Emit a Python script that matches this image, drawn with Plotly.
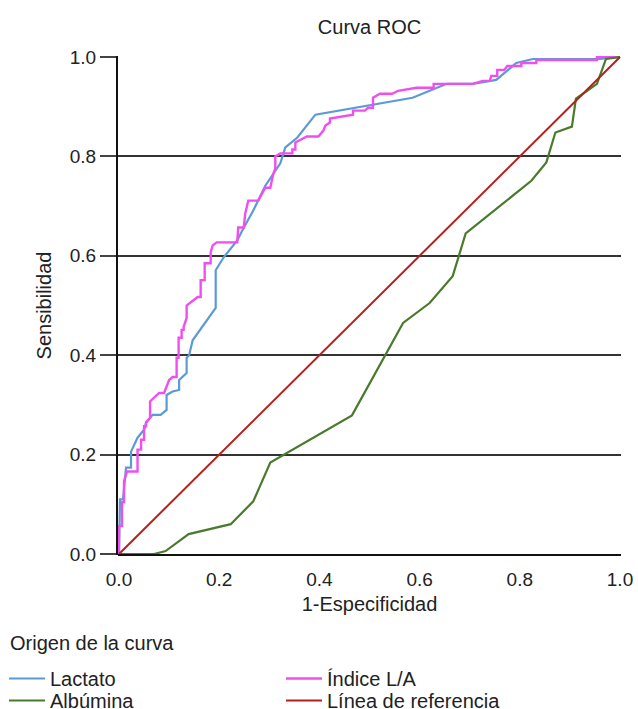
import plotly.graph_objects as go

lactato_x = [0, 0.002, 0.008, 0.014, 0.024, 0.024, 0.037, 0.05, 0.054, 0.067, 0.083, 0.095, 0.095, 0.107, 0.12, 0.12,
             0.135, 0.135, 0.14, 0.145, 0.147, 0.193, 0.193, 0.209, 0.236, 0.246, 0.268, 0.292, 0.322, 0.332, 0.356,
             0.392, 0.586, 0.654, 0.706, 0.753, 0.773, 0.793, 0.826, 0.96, 1.0]
lactato_y = [0, 0.11, 0.11, 0.174, 0.174, 0.206, 0.234, 0.25, 0.264, 0.28, 0.28, 0.29, 0.32, 0.327, 0.33, 0.35,
             0.364, 0.395, 0.40, 0.425, 0.43, 0.495, 0.571, 0.597, 0.631, 0.651, 0.691, 0.741, 0.786, 0.818, 0.838,
             0.884, 0.918, 0.946, 0.946, 0.954, 0.972, 0.988, 0.996, 0.996, 1.0]

indice_x = [0, 0, 0.006, 0.006, 0.01, 0.01, 0.016, 0.037, 0.037, 0.044, 0.044, 0.05, 0.05, 0.054, 0.054, 0.062,
            0.062, 0.08, 0.09, 0.1, 0.107, 0.115, 0.115, 0.119, 0.119, 0.125, 0.125, 0.129, 0.129, 0.135, 0.135,
            0.157, 0.163, 0.163, 0.171, 0.171, 0.183, 0.183, 0.187, 0.195, 0.236, 0.238, 0.238, 0.249, 0.252,
            0.258, 0.278, 0.292, 0.302, 0.308, 0.312, 0.312, 0.322, 0.346, 0.346, 0.352, 0.352, 0.375, 0.398,
            0.408, 0.412, 0.421, 0.421, 0.467, 0.467, 0.491, 0.497, 0.507, 0.507, 0.521, 0.545, 0.557, 0.594,
            0.628, 0.628, 0.706, 0.726, 0.74, 0.743, 0.755, 0.755, 0.769, 0.775, 0.803, 0.803, 0.833, 0.833,
            0.954, 0.954, 1.0]
indice_y = [0, 0.056, 0.056, 0.104, 0.104, 0.146, 0.166, 0.166, 0.21, 0.21, 0.23, 0.23, 0.257, 0.257, 0.265, 0.274,
            0.307, 0.324, 0.324, 0.35, 0.356, 0.356, 0.395, 0.395, 0.435, 0.435, 0.451, 0.451, 0.457, 0.475, 0.5,
            0.517, 0.517, 0.551, 0.551, 0.585, 0.585, 0.607, 0.621, 0.627, 0.627, 0.647, 0.657, 0.657, 0.685,
            0.711, 0.711, 0.737, 0.737, 0.765, 0.776, 0.80, 0.806, 0.806, 0.814, 0.814, 0.828, 0.84, 0.84,
            0.852, 0.862, 0.868, 0.876, 0.884, 0.892, 0.892, 0.898, 0.898, 0.918, 0.926, 0.926, 0.932, 0.938,
            0.938, 0.946, 0.946, 0.952, 0.952, 0.962, 0.962, 0.974, 0.974, 0.982, 0.982, 0.988, 0.988, 0.994,
            0.994, 1.0, 1.0]

albumina_x = [0, 0.07, 0.093, 0.139, 0.223, 0.268, 0.302, 0.465, 0.567, 0.62, 0.666, 0.692, 0.823, 0.853, 0.871,
              0.904, 0.912, 0.954, 0.972, 1.0]
albumina_y = [0, 0, 0.006, 0.04, 0.06, 0.106, 0.184, 0.279, 0.465, 0.505, 0.559, 0.645, 0.751, 0.788, 0.848,
              0.86, 0.916, 0.946, 0.996, 1.0]

ref_x = [0, 1]
ref_y = [0, 1]

tick_vals = [0, 0.2, 0.4, 0.6, 0.8, 1.0]
tick_text = ["0.0", "0.2", "0.4", "0.6", "0.8", "1.0"]

W, H = 638, 709
ML, MR, MT, MB = 118, 17, 56, 154
PW, PH = W - ML - MR, H - MT - MB
FS = 20
TFS = 19

fig = go.Figure()
fig.add_trace(go.Scatter(x=lactato_x, y=lactato_y, mode="lines", name="Lactato", legend="legend",
                         line=dict(color="#5b9bd5", width=2.2)))
fig.add_trace(go.Scatter(x=indice_x, y=indice_y, mode="lines", name="Índice L/A", legend="legend",
                         line=dict(color="#f04ff0", width=2.4)))
fig.add_trace(go.Scatter(x=albumina_x, y=albumina_y, mode="lines", name="Albúmina", legend="legend2",
                         line=dict(color="#4a7a2c", width=2.2)))
fig.add_trace(go.Scatter(x=ref_x, y=ref_y, mode="lines", name="Línea de referencia", legend="legend2",
                         line=dict(color="#b5201c", width=2)))

font = "Liberation Sans, Arial, sans-serif"
leg_common = dict(orientation="h", x=(4 - ML) / PW, xref="paper", yref="paper",
                  xanchor="left", yanchor="top", entrywidth=226, entrywidthmode="pixels",
                  font=dict(size=FS), itemwidth=36, bgcolor="rgba(0,0,0,0)")
fig.update_layout(
    width=W, height=H,
    margin=dict(l=ML, r=MR, t=MT, b=MB, autoexpand=False),
    paper_bgcolor="white", plot_bgcolor="white",
    font=dict(family=font, size=FS, color="#222"),
    title=dict(text="Curva ROC", x=0.5, xref="paper", xanchor="center", y=1 - 27 / H, yref="container",
               yanchor="middle", font=dict(size=FS, color="#222")),
    xaxis=dict(range=[-0.002, 1.002], tickvals=tick_vals, ticktext=tick_text, showgrid=False,
               zeroline=False, showline=False, ticks="", automargin=False, ticklabelstandoff=11,
               title=dict(text="1-Especificidad", standoff=7, font=dict(size=FS)),
               tickfont=dict(size=TFS)),
    yaxis=dict(range=[-0.002, 1.002], tickvals=tick_vals, ticktext=tick_text, showgrid=True,
               gridcolor="#333", gridwidth=1.5, zeroline=False, showline=True, linecolor="#111",
               linewidth=2, ticks="outside", ticklen=16, tickcolor="#444", tickwidth=1.5, automargin=False,
               title=dict(text="Sensibilidad", standoff=13, font=dict(size=FS)), tickfont=dict(size=TFS)),
    legend=dict(y=(MT + PH - 659) / PH, **leg_common),
    legend2=dict(y=(MT + PH - 681) / PH, **leg_common),
    showlegend=True,
)
fig.add_annotation(text="Origen de la curva", xref="paper", yref="paper",
                   x=(8 - ML) / PW, y=(MT + PH - 643) / PH, xanchor="left", yanchor="middle",
                   showarrow=False, font=dict(size=FS, color="#222"))
fig.add_shape(type="line", xref="paper", yref="paper", x0=0, x1=1, y0=0, y1=0,
              line=dict(color="#111", width=2))

fig.write_html("out.html", config={"displayModeBar": False},
               post_script="document.body.style.margin='0px';")
